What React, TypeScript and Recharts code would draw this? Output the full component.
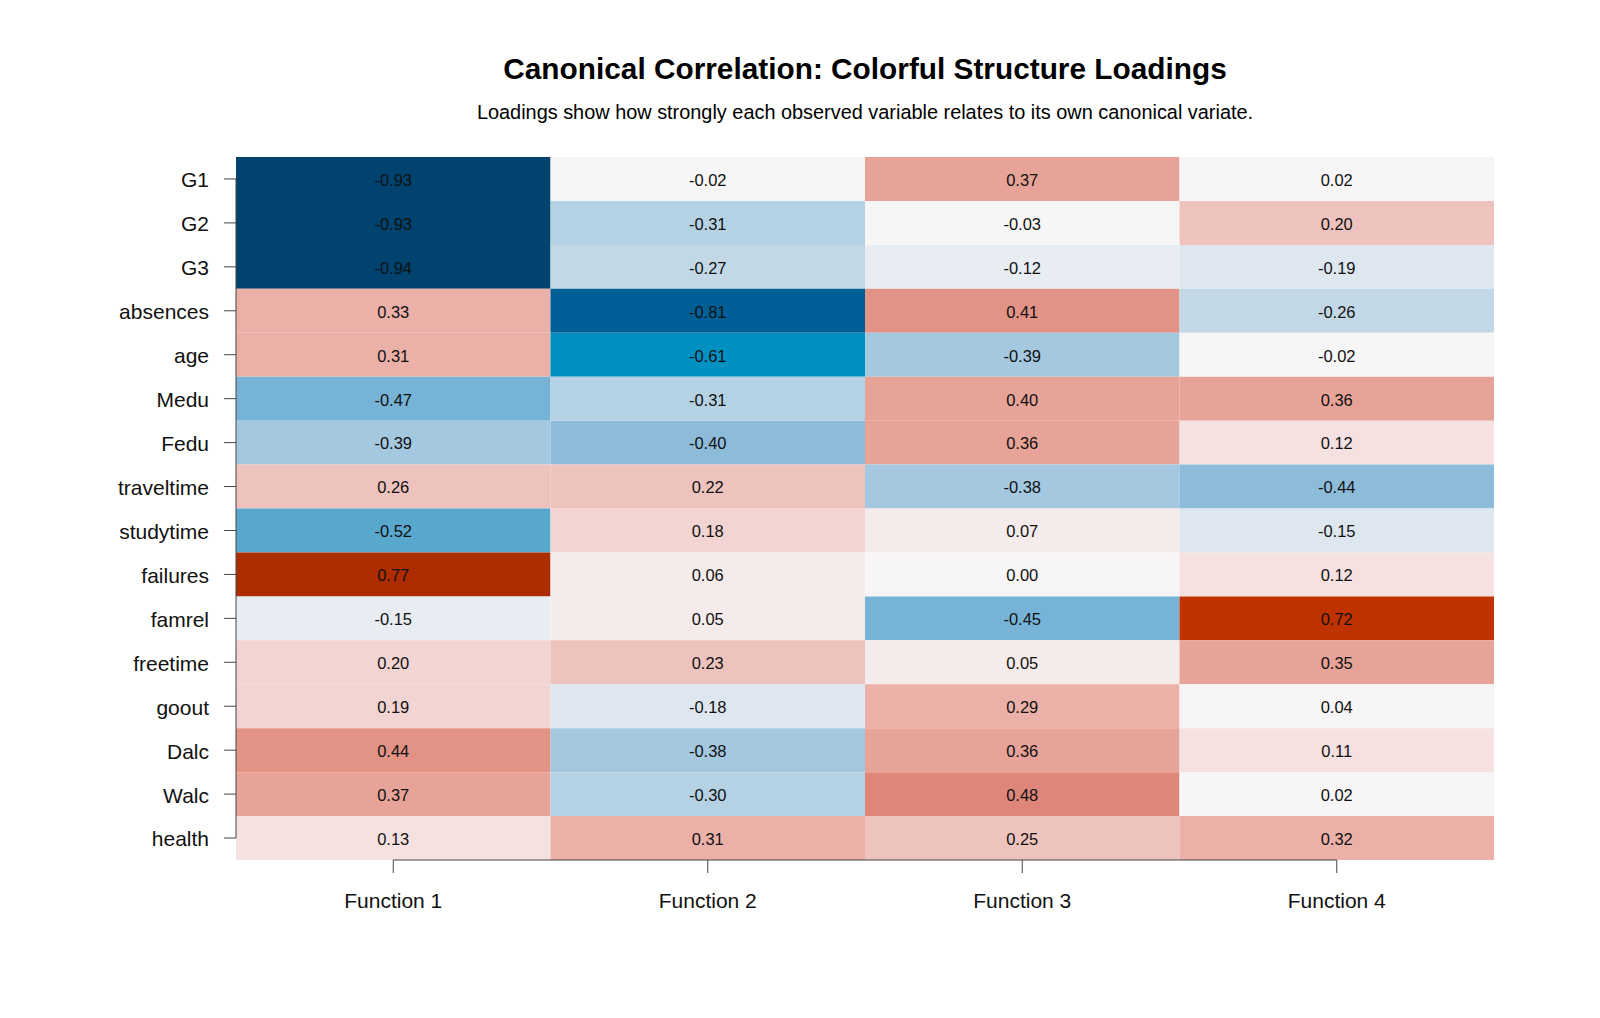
import React from 'react';
import { ScatterChart, Scatter, XAxis, YAxis, ReferenceArea, ReferenceLine } from 'recharts';

const variables = [
  'G1', 'G2', 'G3', 'absences', 'age', 'Medu', 'Fedu', 'traveltime',
  'studytime', 'failures', 'famrel', 'freetime', 'goout', 'Dalc', 'Walc', 'health',
];
const functions = ['Function 1', 'Function 2', 'Function 3', 'Function 4'];

const fn1 = [-0.93, -0.93, -0.94, 0.33, 0.31, -0.47, -0.39, 0.26, -0.52, 0.77, -0.148, 0.2, 0.19, 0.44, 0.37, 0.13];
const fn2 = [-0.02, -0.31, -0.27, -0.81, -0.61, -0.31, -0.4, 0.22, 0.18, 0.06, 0.05, 0.23, -0.18, -0.38, -0.3, 0.31];
const fn3 = [0.37, -0.03, -0.12, 0.41, -0.39, 0.4, 0.36, -0.38, 0.07, 0.0, -0.45, 0.05, 0.29, 0.36, 0.48, 0.25];
const fn4 = [0.02, 0.204, -0.19, -0.26, -0.02, 0.36, 0.12, -0.44, -0.152, 0.12, 0.72, 0.35, 0.04, 0.11, 0.02, 0.32];

const loadings = [fn1, fn2, fn3, fn4];

// binned diverging palette
const PALETTE: [number, string][] = [
  [-0.9, '#00436E'], [-0.7, '#005F96'], [-0.55, '#0090C2'], [-0.5, '#58A8CE'],
  [-0.445, '#77B3D6'], [-0.395, '#8DBCDA'], [-0.345, '#A3C8DF'], [-0.285, '#B5D1E4'],
  [-0.235, '#C3D8E6'], [-0.15, '#DEE7F0'], [-0.09, '#E8EDF4'], [-0.001, '#F6F6F6'],
  [0.045, '#F7F5F5'], [0.09, '#F5EBEB'], [0.15, '#F4E1E0'], [0.202, '#F2D5D2'],
  [0.27, '#EEC3BD'], [0.34, '#EBB0A8'], [0.405, '#E8A398'], [0.46, '#E39286'],
  [0.6, '#DF867A'], [0.75, '#C03300'], [1.01, '#AE2D00'],
];

const colorFor = (v: number) => {
  for (const [bound, c] of PALETTE) if (v <= bound) return c;
  return PALETTE[PALETTE.length - 1][1];
};

const cells = loadings.flatMap((col, ci) =>
  col.map((v, ri) => ({ x: ci + 1, y: ri + 1, value: v }))
);

const FONT = '"Liberation Sans", Arial, sans-serif';

export default function App() {
  return (
    <div style={{ position: 'absolute', left: 0, top: 0, width: 1600, height: 1018, background: '#fff', fontFamily: FONT }}>
      <div style={{ position: 'absolute', left: 865, top: 54, transform: 'translateX(-50%)', whiteSpace: 'nowrap', fontSize: 29.8, lineHeight: '30px', fontWeight: 700, color: '#000' }}>
        Canonical Correlation: Colorful Structure Loadings
      </div>
      <div style={{ position: 'absolute', left: 865, top: 102, transform: 'translateX(-50%)', whiteSpace: 'nowrap', fontSize: 19.9, lineHeight: '20px', color: '#000' }}>
        Loadings show how strongly each observed variable relates to its own canonical variate.
      </div>
      <ScatterChart width={1600} height={1018} margin={{ top: 157, right: 106, bottom: 98, left: 36 }}>
        <XAxis
          type="number"
          dataKey="x"
          domain={[0.5, 4.5]}
          ticks={[1, 2, 3, 4]}
          tickFormatter={(t: number) => functions[t - 1]}
          axisLine={false}
          tickSize={13}
          tickMargin={20}
          height={60}
          stroke="#444"
          tick={{ fontSize: 21, fill: '#111', fontFamily: FONT }}
          allowDataOverflow
        />
        <YAxis
          type="number"
          dataKey="y"
          domain={[0.5, 16.5]}
          reversed
          ticks={variables.map((_, i) => i + 1)}
          tickFormatter={(t: number) => variables[t - 1]}
          axisLine={false}
          tickSize={12}
          tickMargin={15}
          width={200}
          stroke="#444"
          tick={{ fontSize: 21, fill: '#111', fontFamily: FONT, dy: 1 }}
          interval={0}
          allowDataOverflow
        />
        {cells.map(c => (
          <ReferenceArea
            key={`${c.x}-${c.y}`}
            x1={c.x - 0.5}
            x2={c.x + 0.5}
            y1={c.y - 0.5}
            y2={c.y + 0.5}
            fill={colorFor(c.value)}
            fillOpacity={1}
            stroke="none"
            label={{ value: c.value.toFixed(2), position: 'center', fill: '#111', fontSize: 16.5, fontFamily: FONT, dy: 1 }}
          />
        ))}
        <ReferenceLine segment={[{ x: 1, y: 16.5 }, { x: 4, y: 16.5 }]} stroke="#444" strokeWidth={1} />
        <ReferenceLine segment={[{ x: 0.5, y: 1 }, { x: 0.5, y: 16 }]} stroke="#444" strokeWidth={1} />
        <Scatter data={cells} isAnimationActive={false} shape={() => <g />} />
      </ScatterChart>
    </div>
  );
}
